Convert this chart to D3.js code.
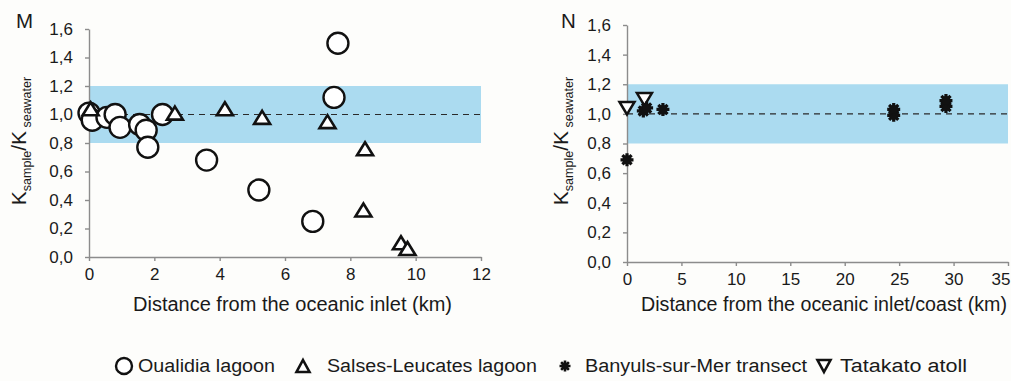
<!DOCTYPE html>
<html><head><meta charset="utf-8">
<script src="https://cdn.jsdelivr.net/npm/d3@7"></script>
<style>
body{margin:0;background:#fdfdfb}
svg{display:block}
text{font-family:"Liberation Sans",Arial,sans-serif;fill:#1a1a1a}
</style>
</head><body><svg id="c" width="1011" height="381"></svg>
<script>
// ---- data ----
const yTicks = [0, 0.2, 0.4, 0.6, 0.8, 1.0, 1.2, 1.4, 1.6];
const xTicksM = [0, 2, 4, 6, 8, 10, 12];
const xTicksN = [0, 5, 10, 15, 20, 25, 30, 35];
const bandRange = [0.8, 1.2];
const refLine = 1.0;

const oualidiaX = [0, 0.1, 0.55, 0.8, 0.95, 1.55, 1.75, 1.8, 2.25, 3.6, 5.2, 6.85, 7.5, 7.62];
const oualidiaY = [1.01, 0.96, 0.98, 1.0, 0.91, 0.93, 0.89, 0.77, 1.0, 0.68, 0.47, 0.25, 1.12, 1.5];

const salsesX = [0.05, 2.63, 4.16, 5.3, 7.3, 8.45, 8.4, 9.55, 9.75];
const salsesY = [1.04, 1.01, 1.04, 0.98, 0.95, 0.76, 0.33, 0.1, 0.06];

const banyulsX = [0, 1.5, 1.8, 3.3, 24.5, 24.5, 29.3, 29.3];
const banyulsY = [0.69, 1.02, 1.04, 1.03, 0.99, 1.03, 1.05, 1.09];

const tatakatoX = [0, 1.6];
const tatakatoY = [1.04, 1.1];

const legendLabels = ["Oualidia lagoon", "Salses-Leucates lagoon", "Banyuls-sur-Mer transect", "Tatakato atoll"];
const xTitles = ["Distance from the oceanic inlet (km)", "Distance from the oceanic inlet/coast (km)"];
const panelLetters = ["M", "N"];

// ---- drawing ----
const svg = d3.select("#c");
const fmt = d => d3.format(".1f")(d).replace(".", ",");
const axisColor = "#8c8c8c";

const triUp = "M0,-6.5L8,6.5L-8,6.5Z";
const triDown = "M0,6.5L7.5,-6L-7.5,-6Z";
function asterisk(s) {
  let p = "";
  for (let k = 0; k < 4; k++) {
    const a = k * Math.PI / 4;
    const dx = Math.cos(a) * s, dy = Math.sin(a) * s;
    p += `M${-dx},${-dy}L${dx},${dy}`;
  }
  return p;
}

function panel(cfg) {
  const g = svg.append("g");
  const x = d3.scaleLinear().domain(cfg.xDomain).range(cfg.xRange);
  const y = d3.scaleLinear().domain([0, 1.6]).range(cfg.yRange);

  // band
  g.append("rect")
    .attr("x", x(cfg.xDomain[0])).attr("width", x(cfg.xDomain[1]) - x(cfg.xDomain[0]))
    .attr("y", y(bandRange[1])).attr("height", y(bandRange[0]) - y(bandRange[1]))
    .attr("fill", "#abdbf0");
  g.append("line")
    .attr("x1", x(cfg.xDomain[0])).attr("x2", x(cfg.xDomain[1]))
    .attr("y1", y(refLine)).attr("y2", y(refLine))
    .attr("stroke", "#2a2a2a").attr("stroke-width", 1.2).attr("stroke-dasharray", "6,5");

  // axes
  const ya = g.append("g").attr("transform", `translate(${cfg.xRange[0]},0)`)
    .call(d3.axisLeft(y).tickValues(yTicks).tickFormat(fmt).tickSize(4).tickPadding(12).tickSizeOuter(0));
  const xa = g.append("g").attr("transform", `translate(0,${cfg.yRange[0]})`)
    .call(d3.axisBottom(x).tickValues(cfg.xTicks).tickSize(4).tickPadding(7).tickSizeOuter(0));
  [ya, xa].forEach(a => {
    a.selectAll("path,line").attr("stroke", axisColor).attr("stroke-width", 1.4);
    a.selectAll("text").attr("font-size", 17).attr("font-family", '"Liberation Sans",Arial,sans-serif').attr("fill", "#2a2a2a");
  });
  // keep the last x label inside the page
  if (cfg.lastLabelEnd) {
    xa.selectAll(".tick").filter(d => d === cfg.xTicks[cfg.xTicks.length - 1]).select("text")
      .attr("text-anchor", "end").attr("x", cfg.lastLabelEnd);
  }

  // y label
  const yl = g.append("text")
    .attr("transform", `translate(${cfg.yLabelX},${cfg.yLabelY}) rotate(-90)`)
    .attr("text-anchor", "middle");
  yl.append("tspan").attr("font-size", 21).text("K");
  yl.append("tspan").attr("font-size", 12.5).attr("dy", 5).text("sample");
  yl.append("tspan").attr("font-size", 21).attr("dy", -5).text("/K");
  yl.append("tspan").attr("font-size", 12.5).attr("dy", 5).text(" seawater");

  // x title
  g.append("text").attr("x", cfg.titleX).attr("y", 311).attr("font-size", 19.5)
    .attr("textLength", cfg.titleLen).attr("lengthAdjust", "spacingAndGlyphs")
    .text(cfg.title);

  // letter
  g.append("text").attr("x", cfg.letterX).attr("y", 28).attr("font-size", 20.5).text(cfg.letter);

  return {g, x, y};
}

// Panel M
const M = panel({xDomain: [0, 12], xRange: [89, 481], yRange: [257, 29], xTicks: xTicksM,
  yLabelX: 26, yLabelY: 141, title: xTitles[0], titleX: 133, titleLen: 319, letter: panelLetters[0], letterX: 16});

M.g.append("g").selectAll("circle").data(d3.range(oualidiaX.length)).join("circle")
  .attr("cx", i => M.x(oualidiaX[i])).attr("cy", i => M.y(oualidiaY[i])).attr("r", 10.5)
  .attr("fill", "#fff").attr("stroke", "#111").attr("stroke-width", 2.4);
M.g.append("g").selectAll("path").data(d3.range(salsesX.length)).join("path")
  .attr("transform", i => `translate(${M.x(salsesX[i])},${M.y(salsesY[i])})`).attr("d", triUp)
  .attr("fill", "#fff").attr("stroke", "#111").attr("stroke-width", 2.6).attr("stroke-linejoin", "miter");

// Panel N
const N = panel({xDomain: [0, 35], xRange: [627, 1008], yRange: [262, 25], xTicks: xTicksN, lastLabelEnd: 2,
  yLabelX: 568, yLabelY: 141, title: xTitles[1], titleX: 641, titleLen: 366, letter: panelLetters[1], letterX: 561});

N.g.append("g").selectAll("path").data(d3.range(tatakatoX.length)).join("path")
  .attr("transform", i => `translate(${N.x(tatakatoX[i])},${N.y(tatakatoY[i])})`).attr("d", triDown)
  .attr("fill", "#fff").attr("stroke", "#111").attr("stroke-width", 2.5);
const bg = N.g.append("g").selectAll("g").data(d3.range(banyulsX.length)).join("g")
  .attr("transform", i => `translate(${N.x(banyulsX[i])},${N.y(banyulsY[i])})`);
bg.append("path").attr("d", asterisk(6.5)).attr("stroke", "#111").attr("stroke-width", 3.2);
bg.append("circle").attr("r", 4.5).attr("fill", "#111");

// Legend
const leg = svg.append("g");
const lx = [124, 303, 565, 824];
const tx = [138, 327, 585, 840];
const tl = [137, 210, 222, 127];
const ly = 366;
leg.append("circle").attr("cx", lx[0]).attr("cy", ly).attr("r", 8).attr("fill", "#fff").attr("stroke", "#111").attr("stroke-width", 2.4);
leg.append("path").attr("transform", `translate(${lx[1]},${ly})`).attr("d", "M0,-6L6.5,6L-6.5,6Z").attr("fill", "#fff").attr("stroke", "#111").attr("stroke-width", 2.6);
const la = leg.append("g").attr("transform", `translate(${lx[2]},${ly})`);
la.append("path").attr("d", asterisk(5.5)).attr("stroke", "#111").attr("stroke-width", 2.6);
la.append("circle").attr("r", 3.5).attr("fill", "#111");
leg.append("path").attr("transform", `translate(${lx[3]},${ly})`).attr("d", "M0,6L6.5,-6L-6.5,-6Z").attr("fill", "#fff").attr("stroke", "#111").attr("stroke-width", 2.6);
leg.selectAll("text").data(legendLabels).join("text")
  .attr("x", (d, i) => tx[i]).attr("y", 372).attr("font-size", 18)
  .attr("textLength", (d, i) => tl[i]).attr("lengthAdjust", "spacingAndGlyphs")
  .text(d => d);
</script>
</body></html>
